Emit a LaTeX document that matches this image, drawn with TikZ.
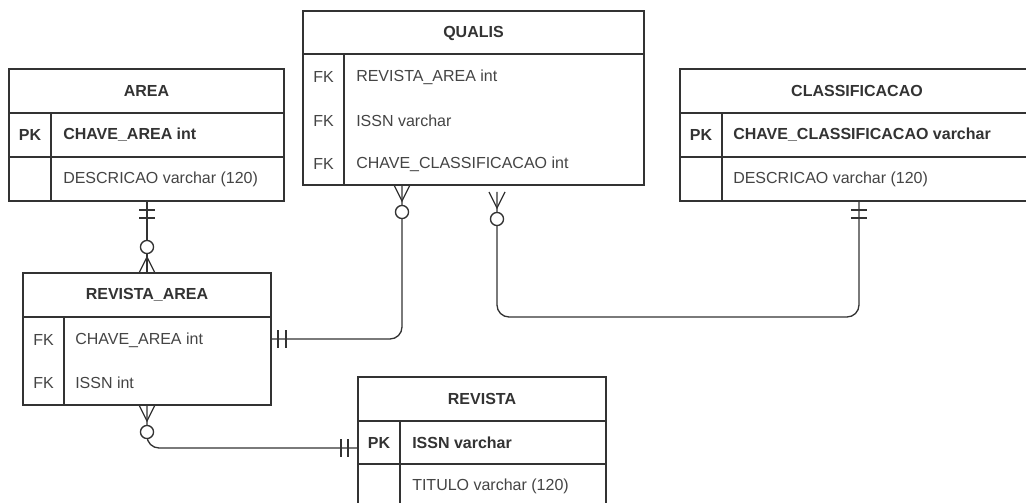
\documentclass[tikz,border=0pt]{standalone}
\usepackage{fontspec}
\setmainfont{Liberation Sans}
\usetikzlibrary{calc}
\definecolor{ln}{HTML}{333333}
\definecolor{tx}{HTML}{333333}
\definecolor{txl}{HTML}{444444}
\begin{document}
\begin{tikzpicture}[x=0.75pt,y=-0.75pt,
  tbl/.style={draw=ln, line width=1pt, inner sep=0pt, outer sep=0pt, anchor=north west},
  inner/.style={draw=ln, line width=1pt},
  hdr/.style={font=\bfseries\fontsize{12pt}{14pt}\selectfont, text=tx, inner sep=0pt},
  keyb/.style={font=\bfseries\fontsize{12pt}{14pt}\selectfont, text=tx, inner sep=0pt},
  keyr/.style={font=\fontsize{12pt}{14pt}\selectfont, text=txl, inner sep=0pt},
  fldb/.style={font=\bfseries\fontsize{12pt}{14pt}\selectfont, text=tx, inner sep=0pt, anchor=west},
  fldr/.style={font=\fontsize{12pt}{14pt}\selectfont, text=txl, inner sep=0pt, anchor=west},
  rel/.style={draw=ln, line width=1pt},
  barsdown/.pic={\draw[rel] (-8,9) -- (8,9) (-8,17) -- (8,17);},
  barsleft/.pic={\draw[rel] (-10,-9) -- (-10,9) (-17,-9) -- (-17,9);},
  barsright/.pic={\draw[rel] (7,-9) -- (7,9) (15,-9) -- (15,9);},
  footup/.pic={\draw[rel] (-8,0) -- (0,-16) -- (8,0); \draw[rel, fill=white] (0,-26) circle[radius=4.9pt];},
  footdown/.pic={\draw[rel] (-8,0) -- (0,16) -- (8,0); \draw[rel, fill=white] (0,27) circle[radius=4.9pt];}
]
\useasboundingbox (0,0) rectangle (1026,503);
\clip (0,0) rectangle (1026,503);
\fill[white] (0,0) rectangle (1026,503);

% ---------- AREA ----------
\node[tbl, minimum width=275*0.75pt, minimum height=132*0.75pt] (area) at (9,69) {};
\draw[inner] ($(area.north west)+(0,44)$) -- ($(area.north east)+(0,44)$);
\draw[inner] ($(area.north west)+(0,88)$) -- ($(area.north east)+(0,88)$);
\draw[inner] ($(area.north west)+(42,44)$) -- ($(area.south west)+(42,0)$);
\node[hdr] (areaH) at ($(area.north)+(0,22)$) {AREA};
\node[keyb] (areaK1) at ($(area.north west)+(21,66)$) {PK};
\node[fldb] (areaF1) at ($(area.north west)+(54,66)$) {CHAVE\_AREA int};
\node[fldr] (areaF2) at ($(area.north west)+(54,110)$) {DESCRICAO varchar (120)};

% ---------- QUALIS ----------
\node[tbl, minimum width=341*0.75pt, minimum height=174*0.75pt] (qualis) at (303,11) {};
\draw[inner] ($(qualis.north west)+(0,43)$) -- ($(qualis.north east)+(0,43)$);
\draw[inner] ($(qualis.north west)+(41,43)$) -- ($(qualis.south west)+(41,0)$);
\node[hdr] (qualisH) at ($(qualis.north)+(0,22)$) {QUALIS};
\node[keyr] (qualisK1) at ($(qualis.north west)+(20.5,66)$) {FK};
\node[keyr] (qualisK2) at ($(qualis.north west)+(20.5,110)$) {FK};
\node[keyr] (qualisK3) at ($(qualis.north west)+(20.5,153)$) {FK};
\node[fldr] (qualisF1) at ($(qualis.north west)+(53,66)$) {REVISTA\_AREA int};
\node[fldr] (qualisF2) at ($(qualis.north west)+(53,110)$) {ISSN varchar};
\node[fldr] (qualisF3) at ($(qualis.north west)+(53,153)$) {CHAVE\_CLASSIFICACAO int};

% ---------- CLASSIFICACAO ----------
\node[tbl, minimum width=354*0.75pt, minimum height=132*0.75pt] (classif) at (680,69) {};
\draw[inner] ($(classif.north west)+(0,44)$) -- ($(classif.north east)+(0,44)$);
\draw[inner] ($(classif.north west)+(0,88)$) -- ($(classif.north east)+(0,88)$);
\draw[inner] ($(classif.north west)+(42,44)$) -- ($(classif.south west)+(42,0)$);
\node[hdr] (classifH) at ($(classif.north)+(0,22)$) {CLASSIFICACAO};
\node[keyb] (classifK1) at ($(classif.north west)+(21,66)$) {PK};
\node[fldb] (classifF1) at ($(classif.north west)+(53,66)$) {CHAVE\_CLASSIFICACAO varchar};
\node[fldr] (classifF2) at ($(classif.north west)+(53,110)$) {DESCRICAO varchar (120)};

% ---------- REVISTA_AREA ----------
\node[tbl, minimum width=248*0.75pt, minimum height=132*0.75pt] (revarea) at (23,273) {};
\draw[inner] ($(revarea.north west)+(0,44)$) -- ($(revarea.north east)+(0,44)$);
\draw[inner] ($(revarea.north west)+(41,44)$) -- ($(revarea.south west)+(41,0)$);
\node[hdr] (revareaH) at ($(revarea.north)+(0,22)$) {REVISTA\_AREA};
\node[keyr] (revareaK1) at ($(revarea.north west)+(20.5,67)$) {FK};
\node[keyr] (revareaK2) at ($(revarea.north west)+(20.5,110)$) {FK};
\node[fldr] (revareaF1) at ($(revarea.north west)+(52,67)$) {CHAVE\_AREA int};
\node[fldr] (revareaF2) at ($(revarea.north west)+(52,110)$) {ISSN int};

% ---------- REVISTA ----------
\node[tbl, minimum width=248*0.75pt, minimum height=132*0.75pt] (revista) at (358,377) {};
\draw[inner] ($(revista.north west)+(0,44)$) -- ($(revista.north east)+(0,44)$);
\draw[inner] ($(revista.north west)+(0,87)$) -- ($(revista.north east)+(0,87)$);
\draw[inner] ($(revista.north west)+(42,44)$) -- ($(revista.south west)+(42,0)$);
\node[hdr] (revistaH) at ($(revista.north)+(0,22)$) {REVISTA};
\node[keyb] (revistaK1) at ($(revista.north west)+(21,66)$) {PK};
\node[fldb] (revistaF1) at ($(revista.north west)+(54,66)$) {ISSN varchar};
\node[fldr] (revistaF2) at ($(revista.north west)+(54,109)$) {TITULO varchar (120)};

% ---------- connectors ----------
\coordinate (xA) at (147,0);
\coordinate (xQ1) at (402,0);
\coordinate (xQ2) at (497,0);
\coordinate (xC) at (859,0);
\coordinate (yB) at (0,317);
\coordinate (yRV) at (0,448);
\coordinate (q2s) at ($(qualis.south -| xQ2)+(0,7)$);

% AREA -- REVISTA_AREA
\draw[rel] (area.south -| xA) -- (revarea.north -| xA);
% QUALIS -- REVISTA_AREA
\draw[rel, rounded corners=9pt] (qualis.south -| xQ1) |- (revarea.east);
% QUALIS -- CLASSIFICACAO
\draw[rel, rounded corners=9pt] (q2s) -- (q2s |- yB) -- (yB -| xC) -- (classif.south -| xC);
% REVISTA_AREA -- REVISTA
\draw[rel, rounded corners=9pt] (revarea.south -| xA) |- (revista.west |- yRV);

% end markers
\pic at (area.south -| xA) {barsdown};
\pic at (revarea.north -| xA) {footup};
\pic at (qualis.south -| xQ1) {footdown};
\pic at (revarea.east) {barsright};
\pic at (q2s) {footdown};
\pic at (classif.south -| xC) {barsdown};
\pic at (revarea.south -| xA) {footdown};
\pic at (revista.west |- yRV) {barsleft};
\end{tikzpicture}
\end{document}
